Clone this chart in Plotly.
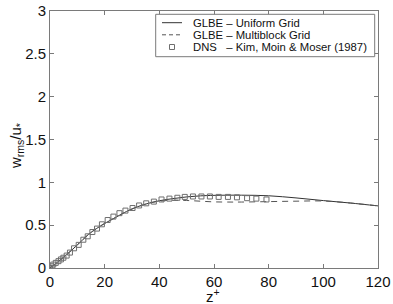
import plotly.graph_objects as go

# GLBE - Uniform Grid (solid)
uni_z = [0, 2, 4, 6, 8, 10, 12, 14, 17, 20, 24, 28, 32, 36, 40, 45, 50, 55, 60, 70, 80, 90, 100, 110, 120]
uni_w = [0, 0.05, 0.10, 0.155, 0.21, 0.27, 0.33, 0.39, 0.46, 0.52, 0.59, 0.66, 0.715, 0.755, 0.785, 0.81, 0.83, 0.842, 0.848, 0.85, 0.843, 0.818, 0.787, 0.758, 0.725]

# GLBE - Multiblock Grid (dashed)
mb_z = [0, 2, 4, 6, 8, 10, 12, 14, 17, 20, 24, 28, 32, 36, 40, 45, 50, 55, 60, 65, 70, 80, 90, 100, 110, 120]
mb_w = [0, 0.05, 0.10, 0.155, 0.21, 0.27, 0.33, 0.39, 0.46, 0.52, 0.59, 0.66, 0.715, 0.755, 0.78, 0.79, 0.788, 0.78, 0.772, 0.77, 0.77, 0.775, 0.78, 0.782, 0.758, 0.725]

# DNS - Kim, Moin & Moser (1987)
dns_z = [0, 0.6, 1.2, 2.1, 3.1, 4.0, 4.9, 6.1, 7.3, 8.8, 10.5, 12.2, 13.8, 15.5, 17.2, 19.0, 21.1, 23.2, 25.4,
         27.6, 30.2, 32.6, 35.2, 38.0, 40.8, 43.7, 46.6, 49.3, 52.3, 55.4, 58.5, 61.7, 65.1, 68.4, 72.1, 75.5, 79.2]
dns_w = [0, 0.02, 0.04, 0.06, 0.08, 0.10, 0.12, 0.145, 0.18, 0.23, 0.27, 0.33, 0.37, 0.42, 0.46, 0.51, 0.56, 0.60, 0.64,
         0.67, 0.70, 0.73, 0.755, 0.775, 0.80, 0.81, 0.82, 0.83, 0.835, 0.835, 0.835, 0.83, 0.83, 0.825, 0.815, 0.81, 0.80]

x_ticks = [0, 20, 40, 60, 80, 100, 120]
y_ticks = [0, 0.5, 1, 1.5, 2, 2.5, 3]
y_tick_text = ["0", "0.5", "1", "1.5", "2", "2.5", "3"]

x_title = "z<sup>+</sup>"
y_title = "w<sub>rms</sub>/u<sub>*</sub>"
legend_labels = ["GLBE \u2013 Uniform Grid", "GLBE \u2013 Multiblock Grid", "DNS   \u2013 Kim, Moin &amp; Moser (1987)"]

FONT = "Liberation Sans, Arial, Helvetica"
AX = "#7a7a7a"
W, H = 393, 304
L, R, T, B = 50, 15, 11, 36
PW, PH = W - L - R, H - T - B


def px(xp):
    return (xp - L) / PW


def py(yp):
    return (H - B - yp) / PH


fig = go.Figure()
fig.add_trace(go.Scatter(x=uni_z, y=uni_w, mode="lines", name=legend_labels[0], showlegend=False,
                         line=dict(color="#333333", width=1, shape="spline")))
fig.add_trace(go.Scatter(x=mb_z, y=mb_w, mode="lines", name=legend_labels[1], showlegend=False,
                         line=dict(color="#555555", width=1, dash="6px,5px", shape="spline")))
fig.add_trace(go.Scatter(x=dns_z, y=dns_w, mode="markers", name=legend_labels[2], showlegend=False,
                         marker=dict(symbol="square-open", size=5, color="#6e6e6e", line=dict(width=1))))

axis_common = dict(showline=True, linecolor=AX, linewidth=1, mirror="ticks", ticks="inside",
                   ticklen=4, tickcolor=AX, showgrid=False, zeroline=False, automargin=False,
                   tickfont=dict(family=FONT, size=15, color="#111111"))

fig.update_xaxes(range=[0, 120], tickvals=x_ticks, **axis_common)
fig.update_yaxes(range=[0, 3], tickvals=y_ticks, ticktext=y_tick_text, **axis_common)

# custom compact legend (box, samples, labels)
shapes = [dict(type="rect", xref="paper", yref="paper", x0=px(155.7), x1=px(374.7), y0=py(56.7), y1=py(14.3),
               line=dict(color=AX, width=1), fillcolor="white", layer="above")]
rows = [22.7, 34.8, 47.0]
shapes.append(dict(type="line", xref="paper", yref="paper", x0=px(162), x1=px(182), y0=py(rows[0]), y1=py(rows[0]),
                   line=dict(color="#333333", width=1), layer="above"))
shapes.append(dict(type="line", xref="paper", yref="paper", x0=px(162), x1=px(182), y0=py(rows[1]), y1=py(rows[1]),
                   line=dict(color="#555555", width=1, dash="4px,3px"), layer="above"))
shapes.append(dict(type="rect", xref="paper", yref="paper", x0=px(169.5), x1=px(174.5), y0=py(rows[2] + 2.5), y1=py(rows[2] - 2.5),
                   line=dict(color="#6e6e6e", width=1), fillcolor="white", layer="above"))
annotations = []
for lab, r in zip(legend_labels, rows):
    annotations.append(dict(text=lab, xref="paper", yref="paper", x=px(191), y=py(r), xanchor="left", yanchor="middle",
                            showarrow=False, font=dict(family=FONT, size=11.3, color="#111111")))

# axis titles
annotations.append(dict(text=x_title, xref="paper", yref="paper", x=px(213), y=py(306), xanchor="center", yanchor="bottom",
                        showarrow=False, borderpad=0, font=dict(family=FONT, size=15, color="#111111")))
annotations.append(dict(text=y_title, xref="paper", yref="paper", x=px(16), y=py(146), xanchor="center", yanchor="middle",
                        textangle=-90, showarrow=False, font=dict(family=FONT, size=15, color="#111111")))

fig.update_layout(
    width=W, height=H,
    margin=dict(l=L, r=R, t=T, b=B, autoexpand=False),
    paper_bgcolor="white", plot_bgcolor="white",
    showlegend=False,
    shapes=shapes, annotations=annotations,
)

fig.write_html(
    "out.html",
    config={"displayModeBar": False},
    post_script=(
        "document.documentElement.style.margin='0';"
        "document.body.style.margin='0';"
        "document.documentElement.style.overflow='hidden';"
        "document.body.style.overflow='hidden';"
        "var d=document.getElementById('{plot_id}');"
        "d.style.position='fixed';d.style.left='0px';d.style.top='0px';"
    ),
)
